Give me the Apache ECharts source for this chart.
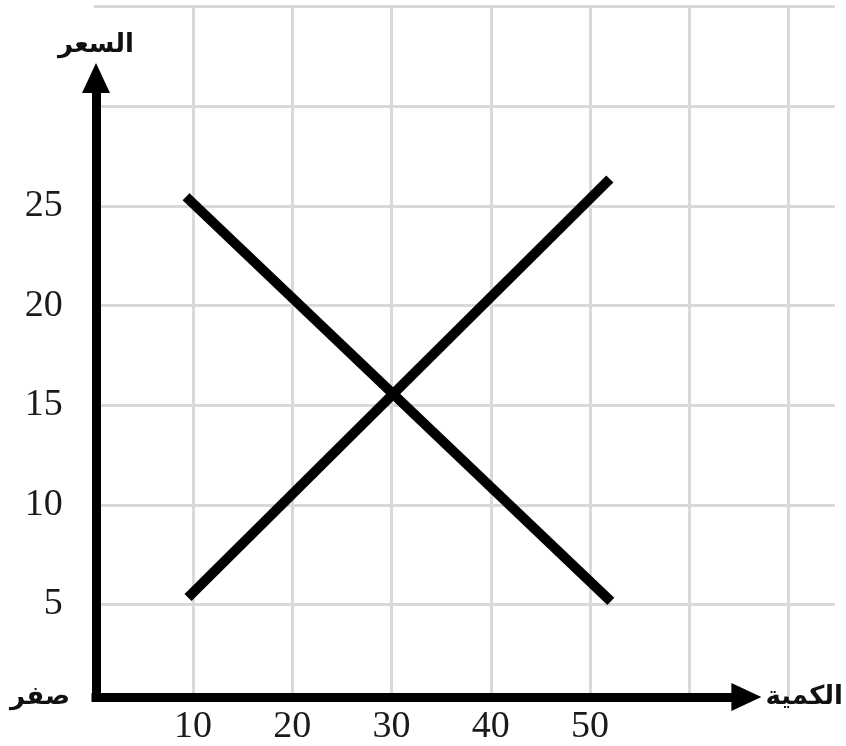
<!DOCTYPE html>
<html><head><meta charset="utf-8">
<script src="https://cdn.jsdelivr.net/npm/echarts@6/dist/echarts.min.js"></script>
<style>html,body{margin:0;padding:0;background:#fff}#c{width:846px;height:746px}</style>
</head><body><div id="c"></div>
<script>
// ---- data ----
const xTicks = [10, 20, 30, 40, 50];
const yTicks = [5, 10, 15, 20, 25];
const demand = [[9.3, 25.35], [52.1, 4.8]];
const supply = [[9.5, 5.0], [52.0, 26.25]];
const xName = 'الكمية';
const yName = 'السعر';
const zeroLabel = 'صفر';

const gridColor = '#d9d9d9';
const numFont = { fontFamily: 'Liberation Serif', fontSize: 38, color: '#1a1a1a' };
const arFont = { fontFamily: 'DejaVu Sans', fontWeight: 'bold', fontSize: 26, color: '#111' };

const chart = echarts.init(document.getElementById('c'), null, { renderer: 'canvas' });
chart.setOption({
  animation: false,
  backgroundColor: '#fff',
  grid: [
    { left: 93.75, top: 6.7, width: 741.25, height: 697.4 },
    { left: 93.75, top: 6.7, width: 694.75, height: 697.4 },
    { left: 96, top: 78, right: 98, bottom: 49 }
  ],
  xAxis: [
    { gridIndex: 0, type: 'value', min: 0, max: 74.69, show: false },
    { gridIndex: 1, type: 'value', min: 0, max: 70, interval: 10,
      axisLine: { show: false }, axisTick: { show: false },
      splitLine: { show: true, showMinLine: false, lineStyle: { color: gridColor, width: 3 } },
      axisLabel: Object.assign({ margin: 12, formatter: v => xTicks.includes(v) ? String(v) : '' }, numFont) },
    { gridIndex: 2, type: 'value', min: 0, max: 1,
      axisLine: { show: true, onZero: false, symbol: ['none', 'triangle'], symbolSize: [28, 30],
        lineStyle: { color: '#000', width: 9, cap: 'square' } },
      axisTick: { show: false }, axisLabel: { show: false }, splitLine: { show: false },
      name: xName, nameLocation: 'end', nameGap: 19, nameTextStyle: arFont }
  ],
  yAxis: [
    { gridIndex: 0, type: 'value', min: 0, max: 35, interval: 5,
      axisLine: { show: false }, axisTick: { show: false },
      splitLine: { show: true, showMinLine: false, lineStyle: { color: gridColor, width: 3 } },
      axisLabel: Object.assign({ margin: 31, formatter: v => yTicks.includes(v) ? String(v) : '' }, numFont) },
    { gridIndex: 1, type: 'value', min: 0, max: 35, interval: 5, show: false },
    { gridIndex: 2, type: 'value', min: 0, max: 1, interval: 1,
      axisLine: { show: true, onZero: false, symbol: ['none', 'triangle'], symbolSize: [28, 30],
        lineStyle: { color: '#000', width: 9, cap: 'square' } },
      axisTick: { show: false }, splitLine: { show: false },
      axisLabel: Object.assign({ margin: 26, formatter: v => v === 0 ? zeroLabel : '' }, arFont),
      name: yName, nameLocation: 'end', nameGap: 20, nameTextStyle: arFont }
  ],
  series: [
    { name: 'demand', type: 'line', xAxisIndex: 1, yAxisIndex: 1, data: demand, symbol: 'none',
      lineStyle: { color: '#000', width: 10 }, z: 5 },
    { name: 'supply', type: 'line', xAxisIndex: 1, yAxisIndex: 1, data: supply, symbol: 'none',
      lineStyle: { color: '#000', width: 10 }, z: 5 }
  ]
});
</script>
</body></html>
